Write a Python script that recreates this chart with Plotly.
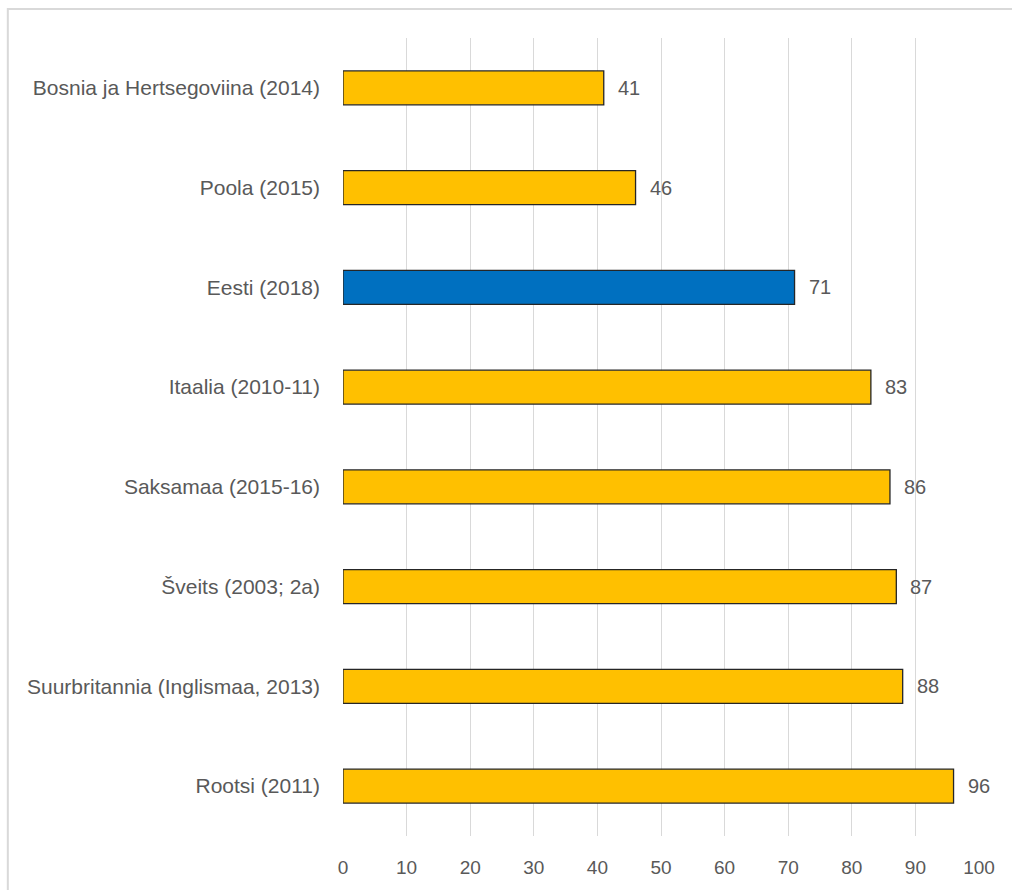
import plotly.graph_objects as go

categories = [
    "Bosnia ja Hertsegoviina (2014)",
    "Poola (2015)",
    "Eesti (2018)",
    "Itaalia (2010-11)",
    "Saksamaa (2015-16)",
    "Šveits (2003; 2a)",
    "Suurbritannia (Inglismaa, 2013)",
    "Rootsi (2011)",
]
values = [41, 46, 71, 83, 86, 87, 88, 96]
highlight = "Eesti (2018)"
tick_vals = [0, 10, 20, 30, 40, 50, 60, 70, 80, 90, 100]

GOLD = "#FFC000"
BLUE = "#0070C0"
TXT = "#595959"
FONT = "Liberation Sans"

colors = [BLUE if c == highlight else GOLD for c in categories]

fig = go.Figure()
fig.add_trace(go.Bar(
    y=categories, x=values, orientation="h",
    marker=dict(color=colors, line=dict(color="#262626", width=1.3)),
    width=0.34,
    hoverinfo="skip",
))

for c, v in zip(categories, values):
    fig.add_annotation(x=v, y=c, text=str(v), showarrow=False,
                       xanchor="left", xshift=12,
                       font=dict(family=FONT, size=20, color=TXT))

fig.add_shape(type="rect", xref="paper", yref="paper",
              x0=-0.527, x1=1.2, y0=-0.2, y1=1.0 + 29 / 798,
              line=dict(color="#d9d9d9", width=2), layer="below")

fig.update_layout(
    width=1012, height=890,
    margin=dict(l=343, r=33, t=38, b=54),
    paper_bgcolor="white", plot_bgcolor="white",
    showlegend=False,
    font=dict(family=FONT, size=21, color=TXT),
    xaxis=dict(range=[0, 100], tickvals=tick_vals, showgrid=True,
               gridcolor="#d9d9d9", gridwidth=1, zeroline=False,
               showline=False, ticks="", ticklen=0,
               tickfont=dict(family=FONT, size=19, color=TXT),
               fixedrange=True),
    yaxis=dict(autorange="reversed", showgrid=False, zeroline=False,
               showline=False, ticks="", ticklabelstandoff=22,
               tickfont=dict(family=FONT, size=21, color=TXT)),
)
fig.update_xaxes(ticklabelstandoff=18)

fig.write_html("out.html")
